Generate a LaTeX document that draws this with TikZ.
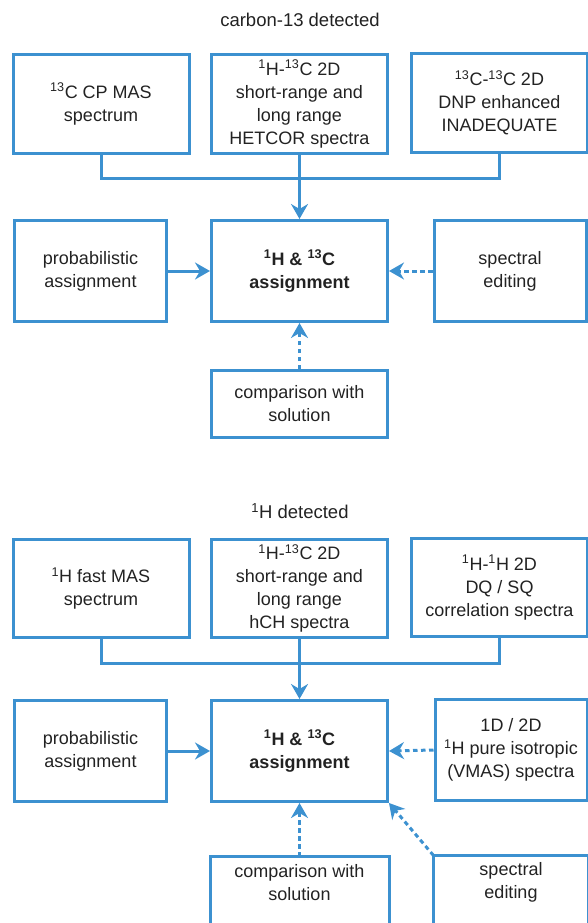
\documentclass[tikz,border=0pt]{standalone}
\usepackage{fontspec}
\setmainfont{Liberation Sans}
\usetikzlibrary{arrows.meta}
\definecolor{nmrblue}{RGB}{60,145,208}
\definecolor{nmrtext}{RGB}{34,34,34}

\begin{document}
\begin{tikzpicture}[
                x=1pt, y=-1pt,
                stage/.style={draw=nmrblue, line width=3pt, text=nmrtext, align=center,
                    inner sep=0pt, font=\fontsize{18}{23}\selectfont},
                heading/.style={text=nmrtext, font=\fontsize{18.5}{23}\selectfont},
                link/.style={draw=nmrblue, line width=3pt},
                feed/.style={link, -{Stealth[length=15pt,width=17pt,inset=5pt]}},
                hint/.style={feed, dash pattern=on 4.5pt off 3.5pt}
            ]
            \useasboundingbox (0,0) rectangle (587,923);

            \node[heading] (top) at (300,20) {carbon-13 detected};
            \node[stage, minimum width=176pt, minimum height=98pt] (cp) at (101,104)
                {\textsuperscript{13}C CP MAS\\spectrum};
            \node[stage, minimum width=176pt, minimum height=98pt] (hetcor) at (299.5,104)
                {\textsuperscript{1}H-\textsuperscript{13}C 2D\\short-range and\\long range\\HETCOR spectra};
            \node[stage, minimum width=176pt, minimum height=98pt] (inadequate) at (499.5,103)
                {\textsuperscript{13}C-\textsuperscript{13}C 2D\\DNP enhanced\\INADEQUATE};
            \node[stage, minimum width=152pt, minimum height=101pt] (probA) at (90.5,271)
                {probabilistic\\assignment};
            \node[stage, minimum width=176pt, minimum height=101pt] (assignA) at (299.5,271)
                {\textbf{\textsuperscript{1}H \& \textsuperscript{13}C}\\\textbf{assignment}};
            \node[stage, minimum width=152pt, minimum height=101pt] (editA) at (510,271)
                {spectral\\editing};
            \node[stage, minimum width=176pt, minimum height=67pt] (compA) at (299.5,404)
                {comparison with\\solution};
            \coordinate (joinA) at (299.5,178);

            \draw[link] (cp.south) |- (joinA) -| (inadequate.south);
            \draw[feed] (hetcor.south) -- (assignA.north);
            \draw[feed] (probA.east) -- (assignA.west);
            \draw[hint] (editA.west) -- (assignA.east);
            \draw[hint] (compA.north) -- (assignA.south);

            \node[heading] (bottom) at (300,511) {\textsuperscript{1}H detected};
            \node[stage, minimum width=176pt, minimum height=98pt] (fastmas) at (101,588.5)
                {\textsuperscript{1}H fast MAS\\spectrum};
            \node[stage, minimum width=176pt, minimum height=98pt] (hch) at (299.5,588.5)
                {\textsuperscript{1}H-\textsuperscript{13}C 2D\\short-range and\\long range\\hCH spectra};
            \node[stage, minimum width=176pt, minimum height=98pt] (dqsq) at (499.5,587.5)
                {\textsuperscript{1}H-\textsuperscript{1}H 2D\\DQ / SQ\\correlation spectra};
            \node[stage, minimum width=152pt, minimum height=101pt] (probB) at (90.5,751)
                {probabilistic\\assignment};
            \node[stage, minimum width=176pt, minimum height=101pt] (assignB) at (299.5,751)
                {\textbf{\textsuperscript{1}H \& \textsuperscript{13}C}\\\textbf{assignment}};
            \node[stage, minimum width=152pt, minimum height=101pt] (vmas) at (511,750)
                {1D / 2D\\\textsuperscript{1}H pure isotropic\\(VMAS) spectra};
            \node[stage, draw=none, minimum width=176pt, minimum height=50pt] (compB) at (299.5,883)
                {comparison with\\solution};
            \node[stage, draw=none, minimum width=152pt, minimum height=50pt] (editB) at (511,882)
                {spectral\\editing};
            \coordinate (joinB) at (299.5,663);

            \draw[link] ([yshift=-60pt]compB.south west) -- (compB.north west)
                -- (compB.north east) -- ([yshift=-60pt]compB.south east);
            \draw[link] ([yshift=-60pt]editB.south west) -- (editB.north west)
                -- (editB.north east) -- ([yshift=-60pt]editB.south east);
            \draw[link] (fastmas.south) |- (joinB) -| (dqsq.south);
            \draw[feed] (hch.south) -- (assignB.north);
            \draw[feed] (probB.east) -- (assignB.west);
            \draw[hint] (vmas.west) -- (assignB.east);
            \draw[hint] (compB.north) -- (assignB.south);
            \draw[hint] (editB.north west) -- (assignB.south east);
        \end{tikzpicture}
\end{document}
